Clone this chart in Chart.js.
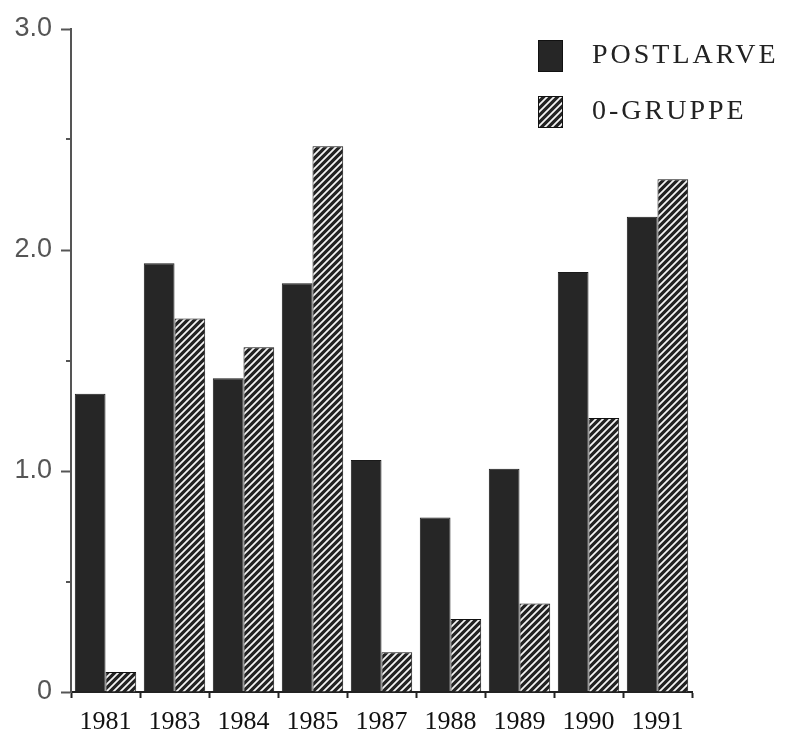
<!DOCTYPE html>
<html>
<head>
<meta charset="utf-8">
<script src="https://cdn.jsdelivr.net/npm/chart.js@4"></script>
<style>
  html, body { margin: 0; padding: 0; background: #fff; }
  #wrap { width: 787px; height: 735px; }
</style>
</head>
<body>
<div id="wrap"><canvas id="chart" width="787" height="735"></canvas></div>
<script>
// values
const years = ['1981', '1983', '1984', '1985', '1987', '1988', '1989', '1990', '1991'];
const postlarve = [1.35, 1.94, 1.42, 1.85, 1.05, 0.79, 1.01, 1.90, 2.15];
const gruppe0 = [0.09, 1.69, 1.56, 2.47, 0.18, 0.33, 0.40, 1.24, 2.32];
const seriesNames = ['POSTLARVE', '0-GRUPPE'];
const yMajor = [0, 1, 2, 3];

// diagonal hatch used for the 0-gruppe bars
function makeHatch() {
  const c = document.createElement('canvas');
  c.width = 7; c.height = 7;
  const g = c.getContext('2d');
  g.fillStyle = '#222';
  g.fillRect(0, 0, 7, 7);
  g.strokeStyle = '#f4f4f4';
  g.lineWidth = 1.8;
  g.beginPath();
  g.moveTo(-1, 8); g.lineTo(8, -1);
  g.moveTo(-1, 1); g.lineTo(1, -1);
  g.moveTo(6, 8); g.lineTo(8, 6);
  g.stroke();
  return g.createPattern(c, 'repeat');
}
const hatch = makeHatch();

// minor y ticks (0.5 steps) are shorter than the labelled ones
const minorTicks = {
  id: 'minorTicks',
  afterDraw(chart) {
    const y = chart.scales.y;
    const ctx = chart.ctx;
    ctx.save();
    ctx.strokeStyle = '#555';
    ctx.lineWidth = 2;
    y.ticks.forEach(t => {
      if (yMajor.includes(t.value)) return;
      const py = Math.round(y.getPixelForValue(t.value));
      ctx.beginPath();
      ctx.moveTo(y.right - 5, py);
      ctx.lineTo(y.right, py);
      ctx.stroke();
    });
    ctx.restore();
  }
};

// legend in the top right corner
const cornerLegend = {
  id: 'cornerLegend',
  afterDraw(chart) {
    const ctx = chart.ctx;
    ctx.save();
    chart.data.datasets.forEach((ds, i) => {
      const top = 40 + i * 56;
      ctx.fillStyle = ds.backgroundColor;
      ctx.fillRect(538, top, 25, 32);
      ctx.strokeStyle = '#111';
      ctx.lineWidth = 1;
      ctx.strokeRect(538.5, top + 0.5, 24, 31);
      ctx.fillStyle = '#222';
      ctx.font = '28px "Liberation Serif"';
      ctx.letterSpacing = '3px';
      ctx.textBaseline = 'middle';
      ctx.fillText(ds.label, 592, top + 16);
    });
    ctx.restore();
  }
};

new Chart(document.getElementById('chart'), {
  type: 'bar',
  data: {
    labels: years,
    datasets: [
      {
        label: seriesNames[0],
        data: postlarve,
        backgroundColor: '#262626',
        borderColor: '#1a1a1a',
        borderWidth: 1
      },
      {
        label: seriesNames[1],
        data: gruppe0,
        backgroundColor: hatch,
        borderColor: '#111',
        borderWidth: 1
      }
    ]
  },
  plugins: [minorTicks, cornerLegend],
  options: {
    responsive: false,
    devicePixelRatio: 1,
    animation: false,
    layout: { padding: { top: 29, right: 95, left: 0, bottom: 0 } },
    datasets: {
      bar: { categoryPercentage: 0.89, barPercentage: 1.0 }
    },
    plugins: {
      legend: { display: false },
      tooltip: { enabled: false }
    },
    scales: {
      x: {
        afterFit(s) { s.height = 43; },
        grid: {
          offset: true,
          drawOnChartArea: false,
          drawTicks: true,
          tickLength: 6,
          tickWidth: 2,
          tickColor: '#222'
        },
        border: { display: true, color: '#222', width: 2 },
        ticks: {
          color: '#111',
          font: { family: '"Liberation Serif"', size: 26 },
          padding: 9,
          maxRotation: 0,
          autoSkip: false
        }
      },
      y: {
        min: 0,
        max: 3,
        afterFit(s) { s.width = 71; },
        grid: {
          drawOnChartArea: false,
          drawTicks: true,
          tickLength: 10,
          tickWidth: 2,
          tickColor: c => yMajor.includes(c.tick.value) ? '#555' : 'rgba(0,0,0,0)'
        },
        border: { display: true, color: '#555', width: 2 },
        ticks: {
          stepSize: 0.5,
          color: '#555',
          padding: 9,
          font: { family: '"Liberation Sans"', size: 27 },
          callback: v => v === 0 ? '0' : (yMajor.includes(v) ? v.toFixed(1) : '')
        }
      }
    }
  }
});
</script>
</body>
</html>
